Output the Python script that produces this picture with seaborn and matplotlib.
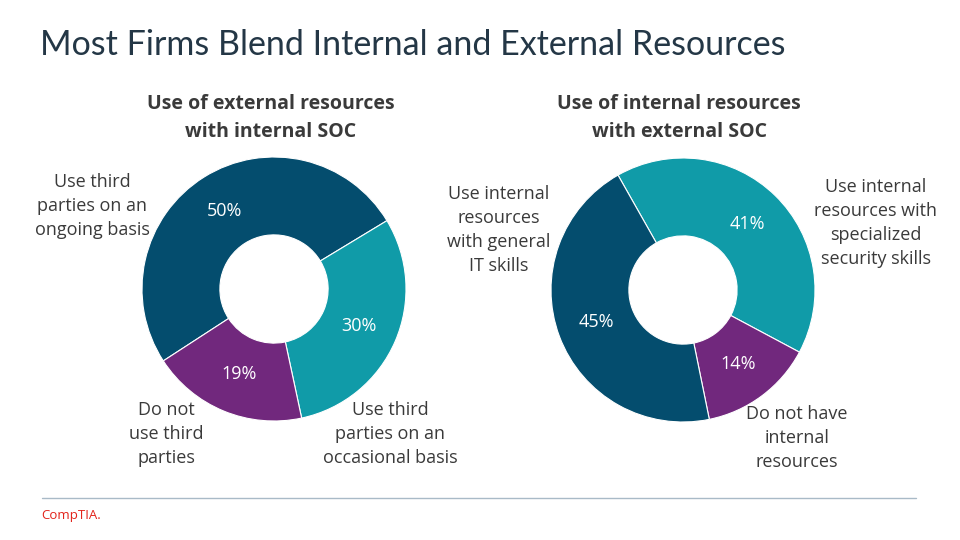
import matplotlib
matplotlib.use("Agg")
import matplotlib.pyplot as plt
import seaborn as sns
from matplotlib.lines import Line2D

# ---------------- data ----------------
left_title = "Use of external resources\nwith internal SOC"
left_labels = ["Use third\nparties on an\nongoing basis",
               "Use third\nparties on an\noccasional basis",
               "Do not\nuse third\nparties"]
left_values = [50, 30, 19]

right_title = "Use of internal resources\nwith external SOC"
right_labels = ["Use internal\nresources with\nspecialized\nsecurity skills",
                "Do not have\ninternal\nresources",
                "Use internal\nresources\nwith general\nIT skills"]
right_values = [41, 14, 45]

chart_title = "Most Firms Blend Internal and External Resources"

DARK = "#044D6E"
TEAL = "#109BA8"
PURPLE = "#71287D"
left_colors = [DARK, TEAL, PURPLE]
right_colors = [TEAL, PURPLE, DARK]

sns.set_theme(style="white")
plt.rcParams["font.family"] = ["Open Sans", "DejaVu Sans"]

W, H = 960, 540
fig = plt.figure(figsize=(9.6, 5.4), dpi=100)
fig.patch.set_facecolor("white")

def fx(x):
    return x / W

def fy(y):
    return 1 - y / H

TEXT = "#3A3A3A"

def donut(cx, cy, R, values, colors, startangle):
    half = 150
    ax = fig.add_axes([fx(cx - half), fy(cy + half), 2 * half / W, 2 * half / H])
    total = sum(values)
    ax.pie(values, colors=colors, startangle=startangle, counterclock=False,
           radius=1.0, wedgeprops=dict(width=0.59, edgecolor="white", linewidth=0.8),
           autopct=lambda p: f"{round(p * total / 100):.0f}%", pctdistance=0.70,
           textprops=dict(color="white", fontsize=13))
    lim = half / R
    ax.set_xlim(-lim, lim)
    ax.set_ylim(-lim, lim)
    ax.set_aspect("equal")
    ax.axis("off")
    return ax

donut(274, 289, 132, left_values, left_colors, 213)
donut(683, 290, 132, right_values, right_colors, 119.5)

# title
fig.text(fx(40), fy(45), chart_title, fontsize=24.5, color="#243746",
         ha="left", va="center", family=["Lato", "DejaVu Sans"])

# subtitles
fig.text(fx(271), fy(118), left_title, fontsize=14, fontweight="bold",
         color=TEXT, ha="center", va="center", linespacing=1.5)
fig.text(fx(679), fy(118), right_title, fontsize=14, fontweight="bold",
         color=TEXT, ha="center", va="center", linespacing=1.5)

# category labels
lab_kw = dict(fontsize=13, color=TEXT, ha="center", va="center", linespacing=1.45)
fig.text(fx(92), fy(206), left_labels[0], **lab_kw)
fig.text(fx(390), fy(434), left_labels[1], **lab_kw)
fig.text(fx(166), fy(434), left_labels[2], **lab_kw)
fig.text(fx(876), fy(223), right_labels[0], **lab_kw)
fig.text(fx(797), fy(438), right_labels[1], **lab_kw)
fig.text(fx(499), fy(230), right_labels[2], **lab_kw)

# footer line and logo
fig.add_artist(Line2D([fx(42), fx(916)], [fy(498), fy(498)],
                      color="#A9BAC7", linewidth=1.0, transform=fig.transFigure))
fig.text(fx(41), fy(516), "CompTIA.", fontsize=9.5, color="#E2231A",
         ha="left", va="center")

fig.savefig("out.png", dpi=100, facecolor="white")
